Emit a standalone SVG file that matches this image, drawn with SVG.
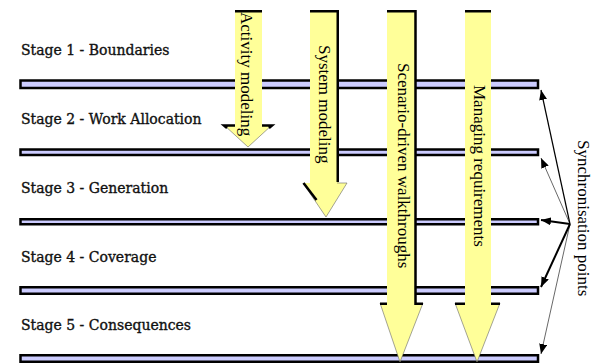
<svg xmlns="http://www.w3.org/2000/svg" width="591" height="363" viewBox="0 0 591 363">
<style>
.lbl{font-family:"DejaVu Serif","Liberation Serif",serif;font-size:14px;fill:#111;stroke:#111;stroke-width:0.35}
.bar{fill:#ccccff;stroke:#000;stroke-width:2.5}
.arr{fill:#ffff99;stroke:none}
.edge{fill:none;stroke:#000;stroke-width:2.5}
.thin{fill:none;stroke:#666;stroke-width:0.6}
.vt{font-family:"Liberation Serif","Times New Roman",serif;font-size:17px;fill:#000}
.fan{fill:none;stroke:#000}
</style>
<defs>
<marker id="ah" viewBox="0 0 10 8" refX="10" refY="4" markerWidth="10" markerHeight="8" markerUnits="userSpaceOnUse" orient="auto">
<path d="M0,0 L10,4 L0,8 z" fill="#000"/>
</marker>
</defs>
<rect width="591" height="363" fill="#fff"/>

<g id="stage1">
<text class="lbl" x="21" y="55">Stage 1 - Boundaries</text>
<rect class="bar" x="20.5" y="80.5" width="517.5" height="7.5"/>
</g>
<g id="stage2">
<text class="lbl" x="21" y="124">Stage 2 - Work Allocation</text>
<rect class="bar" x="20.5" y="149.5" width="517.5" height="5.5"/>
</g>
<g id="stage3">
<text class="lbl" x="21" y="193">Stage 3 - Generation</text>
<rect class="bar" x="20.5" y="219.25" width="517.5" height="5"/>
</g>
<g id="stage4">
<text class="lbl" x="21" y="262">Stage 4 - Coverage</text>
<rect class="bar" x="20.5" y="287.25" width="517.5" height="6.5"/>
</g>
<g id="stage5">
<text class="lbl" x="21" y="330">Stage 5 - Consequences</text>
<rect class="bar" x="20.5" y="355.25" width="517.5" height="6.5"/>
</g>

<g id="activity-modeling">
<polygon class="arr" points="235,10 262,10 262,125 272,125 248,147 224,125 235,125"/>
<polyline class="thin" points="224,125 248,147 272,125"/>
<line class="edge" x1="235" y1="11.25" x2="262" y2="11.25"/>
<polyline class="edge" points="235,125.5 224,125.5 227,128"/>
<polyline class="edge" points="262,125.5 272,125.5 269,128"/>
<text class="vt" transform="translate(240.5,12) rotate(90)">Activity modeling</text>
</g>

<g id="system-modeling">
<polygon class="arr" points="310,10 339,10 339,183 347,183 326,217 303,183 310,183"/>
<polyline class="thin" points="303,183 326,217 347,183 337,183"/>
<polyline class="edge" points="310,11.25 337.75,11.25 337.75,182"/>
<line class="edge" x1="303.5" y1="183" x2="316.5" y2="200"/>
<text class="vt" transform="translate(319,45) rotate(90)">System modeling</text>
</g>

<g id="scenario-walkthroughs">
<polygon class="arr" points="387,10 416,10 416,303 423,303 400,362 380,303 387,303"/>
<polyline class="thin" points="380,303 400,362 423,303"/>
<polyline class="edge" points="387,11.25 415.5,11.25 415.5,303.75 423,303.75"/>
<line class="edge" x1="380" y1="303.75" x2="387" y2="303.75"/>
<text class="vt" transform="translate(397.5,63) rotate(90)">Scenario-driven walkthroughs</text>
</g>

<g id="managing-requirements">
<polygon class="arr" points="465,10 491,10 491,303 500,303 477,362 455,303 465,303"/>
<polyline class="thin" points="455,303 477,362 500,303"/>
<line class="edge" x1="465" y1="11.25" x2="491" y2="11.25"/>
<line class="edge" x1="455" y1="303.75" x2="465" y2="303.75"/>
<line class="edge" x1="491" y1="303.75" x2="500" y2="303.75"/>
<text class="vt" transform="translate(473.5,85) rotate(90)">Managing requirements</text>
</g>

<g id="synchronisation-points">
<text class="vt" transform="translate(577.5,140) rotate(90)">Synchronisation points</text>
</g>

<g id="connectors">
<line class="fan" x1="570" y1="224" x2="541" y2="90" stroke-width="1.2" marker-end="url(#ah)"/>
<line class="fan" x1="570" y1="224" x2="541" y2="158" stroke-width="0.6" marker-end="url(#ah)"/>
<line class="fan" x1="570" y1="224" x2="541" y2="220" stroke-width="2" marker-end="url(#ah)"/>
<line class="fan" x1="570" y1="224" x2="541" y2="287" stroke-width="2" marker-end="url(#ah)"/>
<line class="fan" x1="570" y1="224" x2="541" y2="354" stroke-width="0.6" marker-end="url(#ah)"/>
</g>
</svg>
